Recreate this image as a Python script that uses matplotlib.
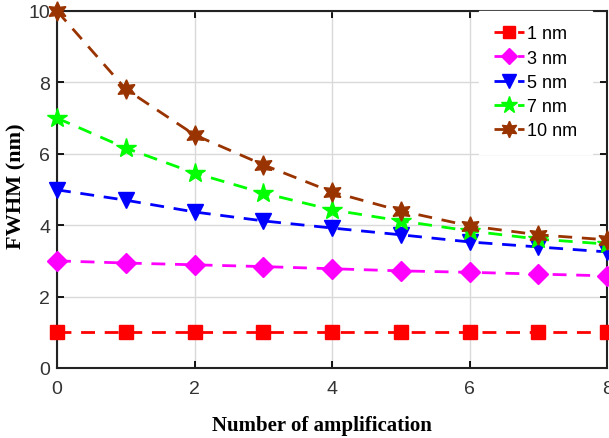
import matplotlib
matplotlib.use("Agg")
import matplotlib.pyplot as plt

x = [0, 1, 2, 3, 4, 5, 6, 7, 8]
labels = ["1 nm", "3 nm", "5 nm", "7 nm", "10 nm"]
fwhm_1 = [1.0, 1.0, 1.0, 1.0, 1.0, 1.0, 1.0, 1.0, 1.0]
fwhm_3 = [3.0, 2.94, 2.89, 2.84, 2.78, 2.72, 2.68, 2.63, 2.58]
fwhm_5 = [4.99, 4.70, 4.37, 4.12, 3.92, 3.73, 3.53, 3.39, 3.25]
fwhm_7 = [7.0, 6.16, 5.46, 4.90, 4.43, 4.12, 3.84, 3.61, 3.47]
fwhm_10 = [10.0, 7.81, 6.53, 5.69, 4.93, 4.40, 3.98, 3.73, 3.59]

series = [fwhm_1, fwhm_3, fwhm_5, fwhm_7, fwhm_10]
colors = ["#ff0000", "#ff00ff", "#0000ff", "#00ff00", "#993300"]
markers = ["s", "D", "v", "*", (6, 1, 0)]
msizes = [10, 10, 12, 15, 14]

fig = plt.figure(figsize=(6.09, 4.39), dpi=100)
ax = fig.add_axes([0.0936, 0.1595, 0.9034, 0.8132])

for ys, c, m, ms, lab in zip(series, colors, markers, msizes, labels):
    ax.plot(x, ys, color=c, linestyle=(0, (5, 3.5)), linewidth=2,
            marker=m, markersize=ms, markerfacecolor=c, markeredgecolor=c,
            label=lab, clip_on=False, zorder=3)

ax.set_xlim(0, 8)
ax.set_ylim(0, 10)
ax.set_xticks([0, 2, 4, 6, 8])
ax.set_yticks([0, 2, 4, 6, 8, 10])
ax.grid(True, color="#d9d9d9", linewidth=1)
ax.set_axisbelow(True)
for s in ax.spines.values():
    s.set_linewidth(1.5)
    s.set_color("#222222")
ax.tick_params(direction="in", top=True, right=True, length=5, width=1.3,
               labelsize=14, labelcolor="#333333")
ax.tick_params(axis="x", pad=9)
ax.tick_params(axis="y", pad=5)

ax.set_xlabel("Number of amplification", fontfamily="Liberation Serif",
              fontweight="bold", fontsize=15)
ax.set_ylabel("FWHM (nm)", fontfamily="Liberation Serif",
              fontweight="bold", fontsize=16)
ax.xaxis.set_label_coords(0.482, -0.131)
ax.yaxis.set_label_coords(-0.055, 0.513)
for t in ax.get_xticklabels() + ax.get_yticklabels():
    t.set_fontfamily("Liberation Sans")

leg = ax.legend(loc="upper right", bbox_to_anchor=(0.972, 1.0), frameon=True,
                fancybox=False, edgecolor="white", facecolor="white",
                framealpha=1, prop={"family": "Liberation Sans", "size": 13},
                handlelength=1.7, handletextpad=0.15, labelspacing=0.4,
                borderpad=0.8, borderaxespad=0.0, markerscale=0.85)

fig.savefig("out.png", dpi=100)
